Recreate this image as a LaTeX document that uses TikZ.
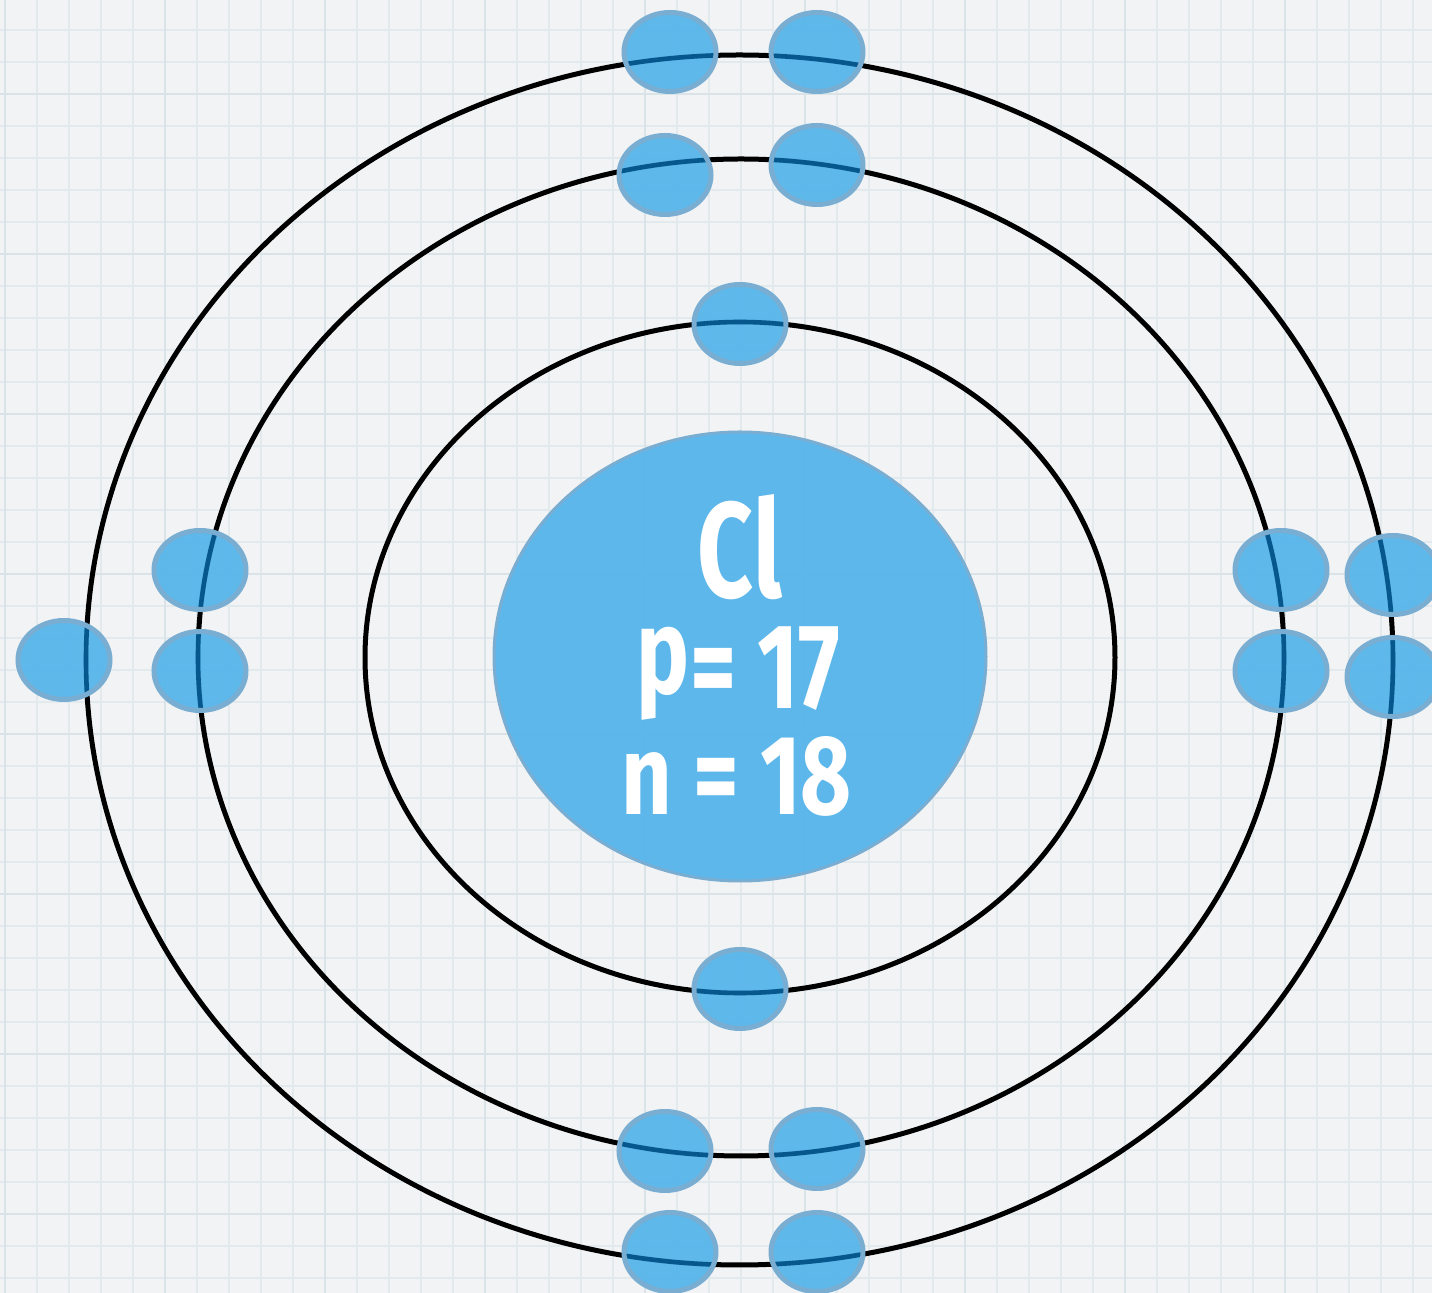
\documentclass[tikz,border=0pt]{standalone}
\usepackage{fontspec}
\setmainfont{Fira Sans}
\usepackage{graphicx}
\definecolor{bg}{HTML}{F2F3F4}
\definecolor{gridminor}{HTML}{E2EAED}
\definecolor{gridmajor}{HTML}{DAE4E8}
\definecolor{blobfill}{HTML}{57B5EA}
\definecolor{blobedge}{HTML}{79AED2}
\definecolor{darkline}{HTML}{06578C}
\tikzset{
  minorline/.style={draw=gridminor, line width=1pt},
  majorline/.style={draw=gridmajor, line width=1.4pt},
  orbit/.style={draw=black, line width=2.5pt},
  innerorbit/.style={draw=darkline, line width=2.3pt},
  nucleus/.style={fill=blobfill, fill opacity=0.96, draw=blobedge, line width=1.5pt},
  efill/.style={fill=blobfill, fill opacity=0.95},
  eedge/.style={draw=blobedge, line width=2.5pt},
  txt/.style={text=white, font=\bfseries, inner sep=0pt}
}
\def\elist{740/324, 740/989, 665/175, 817/165, 670/52, 817/52, 665/1151, 817/1149, 670/1252, 817/1252, 200/570, 200/671, 64/660, 1281/570, 1281/671, 1393/575, 1393/677}
\begin{document}
\begin{tikzpicture}[x=0.5pt,y=-0.5pt]
\useasboundingbox (0,0) rectangle (1432,1293);
\clip (0,0) rectangle (1432,1293);
\fill[bg] (0,0) rectangle (1432,1293);
% grid
\foreach \x in {5,37,...,1440} \draw[minorline] (\x,0) -- (\x,1293);
\foreach \y in {-2,30,...,1300} \draw[minorline] (0,\y) -- (1432,\y);
\foreach \x in {5,165,...,1440} \draw[majorline] (\x,0) -- (\x,1293);
\foreach \y in {-66,94,...,1300} \draw[majorline] (0,\y) -- (1432,\y);
% orbits
\draw[orbit] (740,657.5) ellipse [x radius=375, y radius=335.5];
\draw[orbit] (741,657.5) ellipse [x radius=543, y radius=498.5];
\draw[orbit] (739.5,660) ellipse [x radius=653.5, y radius=605];
% nucleus
\draw[nucleus] (740,656.5) ellipse [x radius=246, y radius=224.5];
% electrons
\foreach \a/\b in \elist \fill[efill] (\a,\b) ellipse [x radius=46, y radius=39.5];
\begin{scope}
\clip foreach \a/\b in \elist {(\a,\b) ellipse [x radius=46, y radius=39.5]};
\draw[innerorbit] (740,657.5) ellipse [x radius=375, y radius=335.5];
\draw[innerorbit] (741,657.5) ellipse [x radius=543, y radius=498.5];
\draw[innerorbit] (739.5,660) ellipse [x radius=653.5, y radius=605];
\end{scope}
\foreach \a/\b in \elist \draw[eedge] (\a,\b) ellipse [x radius=46, y radius=39.5];
% labels
\node[txt, anchor=base] (sym) at (740,598) {\resizebox{42pt}{51.5pt}{Cl}};
\node[txt, anchor=base] (prot) at (738.5,709) {\resizebox{101.5pt}{41pt}{\raisebox{0.13em}{p}= 17}};
\node[txt, anchor=base] (neut) at (737,815) {\resizebox{115pt}{39pt}{n = 18}};
\end{tikzpicture}
\end{document}
